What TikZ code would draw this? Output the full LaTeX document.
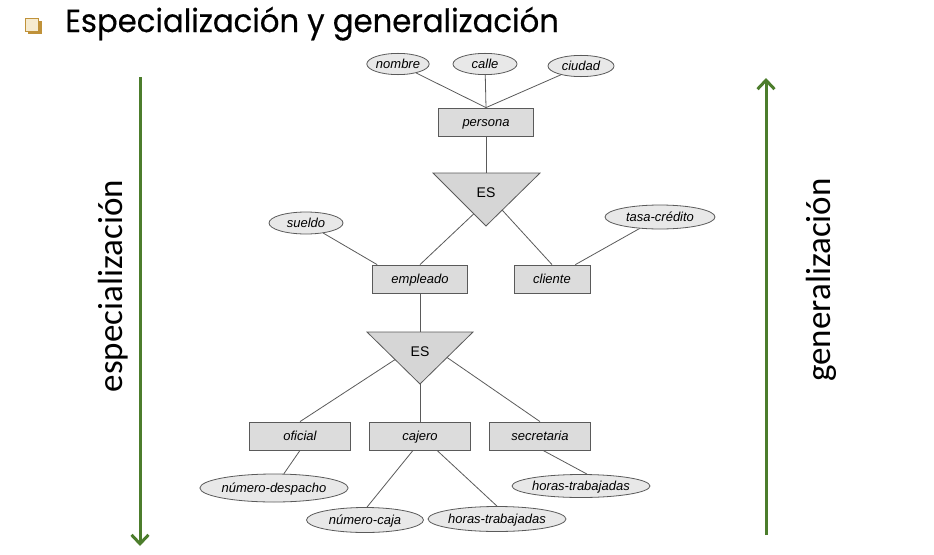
\documentclass[tikz,border=0pt]{standalone}
\usepackage{fontspec}
\setmainfont{Liberation Sans}
\newfontfamily\titlefont[FakeStretch=0.96,FakeBold=0.4]{Poppins}
\newfontfamily\sidefont{Carlito}
\usetikzlibrary{arrows.meta,shapes.geometric,calc}
\definecolor{linec}{HTML}{5A5A5A}
\definecolor{entfill}{HTML}{DCDCDC}
\definecolor{attrfill}{HTML}{E8E8E8}
\definecolor{trifill}{HTML}{D6D6D6}
\definecolor{arrowgreen}{HTML}{4C7D2C}
\definecolor{bulletfill}{HTML}{F6EBD0}
\definecolor{bulletdark}{HTML}{C0923A}
\begin{document}
\begin{tikzpicture}[x=1pt,y=-1pt,
  ent/.style={draw=linec, fill=entfill, line width=0.8pt, minimum width=#1, minimum height=28pt, inner sep=0pt, text height=12pt, text depth=3pt, font=\fontsize{13}{15}\selectfont\itshape},
  attr/.style n args={2}{ellipse, draw=linec, fill=attrfill, line width=0.8pt, minimum width=#1, minimum height=#2, inner sep=0pt, text height=12pt, text depth=3pt, font=\fontsize{13}{15}\selectfont\itshape},
  conn/.style={draw=linec, line width=0.8pt},
  tri/.style={draw=linec, fill=trifill, line width=0.8pt},
  eslabel/.style={font=\fontsize{14}{16}\selectfont, inner sep=0pt},
  bigarrow/.style={draw=arrowgreen, line width=3pt, -{Straight Barb[length=9pt,width=17pt]}},
  sidelabel/.style={font=\sidefont\fontsize{35}{40}\selectfont, rotate=90, inner sep=0pt, anchor=base}
]
\path[use as bounding box] (0,0) rectangle (934,554);

% title
\fill[bulletdark] (28,21) rectangle (42,34);
\node[draw=bulletdark, fill=bulletfill, line width=1pt, minimum size=12.5pt, inner sep=0pt] (bullet) at (32,25) {};
\node[anchor=base west, inner sep=0pt, font=\titlefont\fontsize{32}{38}\selectfont] (title) at (65,32) {Especialización y generalización};

% side arrows
\coordinate (la1) at (140,77);
\coordinate (la2) at (140,546);
\draw[bigarrow] (la1) -- (la2);
\coordinate (ra1) at (766,535);
\coordinate (ra2) at (766,78);
\draw[bigarrow] (ra1) -- (ra2);
\node[sidelabel] (esp) at (122,286) {especialización};
\node[sidelabel] (gen) at (830,280) {generalización};

% top level
\node[attr={62pt}{21pt}] (nombre) at (398,64) {nombre};
\node[attr={64pt}{21pt}] (calle) at (485,64) {calle};
\node[attr={66pt}{21pt}] (ciudad) at (581,66) {ciudad};
\node[ent=95pt] (persona) at (486,122) {persona};
\draw[conn] (nombre) -- (persona.north);
\draw[conn] (calle) -- (persona.north);
\draw[conn] (ciudad) -- (persona.north);

% ES 1
\coordinate (t1l) at (433,173);
\coordinate (t1r) at (540,173);
\coordinate (t1a) at (486,226);
\coordinate (t1t) at (486,173);
\draw[tri] (t1l) -- (t1r) -- (t1a) -- cycle;
\node[eslabel] (es1) at (486,193) {ES};
\draw[conn] (persona.south) -- (t1t);

\node[ent=95pt] (empleado) at (420,279) {empleado};
\node[ent=76pt] (cliente) at (552,279) {cliente};
\node[attr={74pt}{22pt}] (sueldo) at (306,223) {sueldo};
\node[attr={110pt}{24pt}] (tasa) at (660,217) {tasa-crédito};
\draw[conn] ($(t1l)!0.77!(t1a)$) -- (empleado.north);
\draw[conn] ($(t1r)!0.7!(t1a)$) -- (cliente.north);
\draw[conn] (sueldo) -- ([xshift=5pt]empleado.north west);
\draw[conn] (tasa) -- ([xshift=-15pt]cliente.north east);

% ES 2
\coordinate (t2l) at (367,332);
\coordinate (t2r) at (473,332);
\coordinate (t2a) at (420,384);
\coordinate (t2t) at (420,332);
\draw[tri] (t2l) -- (t2r) -- (t2a) -- cycle;
\node[eslabel] (es2) at (420,352) {ES};
\draw[conn] (empleado.south) -- (t2t);

\node[ent=101pt] (oficial) at (300,436) {oficial};
\node[ent=101pt] (cajero) at (420,436) {cajero};
\node[ent=101pt] (secretaria) at (540,436) {secretaria};
\draw[conn] ($(t2l)!0.53!(t2a)$) -- (oficial.north);
\draw[conn] (t2a) -- (cajero.north);
\draw[conn] ($(t2r)!0.49!(t2a)$) -- (secretaria.north);

\node[attr={137pt}{28pt}] (despacho) at (274,488) {número-despacho};
\node[attr={117pt}{25pt}] (caja) at (365,520) {número-caja};
\node[attr={130pt}{25pt}] (horasC) at (497,519) {horas-trabajadas};
\node[attr={128pt}{23pt}] (horasS) at (581,486) {horas-trabajadas};
\draw[conn] (despacho) -- (oficial.south);
\draw[conn] ([xshift=-7pt]cajero.south) -- ([xshift=2pt]caja.north);
\draw[conn] ([xshift=17pt]cajero.south) -- (horasC.north);
\draw[conn] ([xshift=3pt]secretaria.south) -- ([xshift=6pt]horasS.north);
\end{tikzpicture}
\end{document}
